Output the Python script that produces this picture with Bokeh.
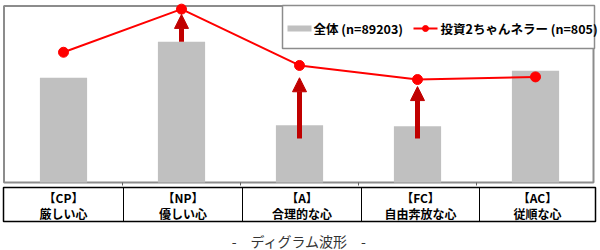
from bokeh.plotting import figure
from bokeh.models import Range1d, ColumnDataSource, Arrow, NormalHead
from bokeh.core.properties import value
from bokeh.embed import file_html
from bokeh.resources import INLINE

# ---- data ----
codes = ["【CP】", "【NP】", "【A】", "【FC】", "【AC】"]
names = ["厳しい心", "優しい心", "合理的な心", "自由奔放な心", "従順な心"]
overall = [11.9, 16.0, 6.5, 6.4, 12.7]          # 全体 (n=89203)
investors = [14.8, 19.7, 13.3, 11.7, 12.0]      # 投資2ちゃんネラー (n=805)
arrow_cats = [1, 2, 3]                          # index of category with arrow
arrow_from = [16.0, 5.0, 5.0]
arrow_to = [19.1, 11.9, 10.9]
legend_labels = ["全体 (n=89203)", "投資2ちゃんネラー (n=805)"]
title_text = "-\u3000ディグラム波形\u3000-"

FONT = "Noto Sans CJK JP"
GRAY = "#c0c0c0"
RED = "#ff0000"
DARK = "#c00000"
BORDER = "#8c8c8c"

# pixel -> data helpers (layout only)
PX_X0, PX_PER_X = 4.0, 118.0
PX_Y0, PX_PER_Y = 182.0, 8.8
def X(px):
    return (px - PX_X0) / PX_PER_X
def Y(px):
    return (PX_Y0 - px) / PX_PER_Y

p = figure(width=600, height=250, output_backend="svg", toolbar_location=None,
           x_range=Range1d(X(0), X(600)), y_range=Range1d(Y(250), Y(0)),
           min_border=0)
p.axis.visible = False
p.grid.visible = False
p.outline_line_color = None
p.background_fill_color = "white"
p.border_fill_color = "white"

xs = [i + 0.5 for i in range(len(codes))]

# plot frame
p.quad(left=[X(3.5)], right=[X(593)], top=[Y(5.5)], bottom=[Y(182)],
       fill_color=None, line_color=BORDER, line_width=2)
# category ticks on bottom edge
p.segment(x0=[1, 2, 3, 4], x1=[1, 2, 3, 4], y0=[Y(182)] * 4, y1=[Y(185)] * 4,
          line_color="#606060", line_width=1)

# bars
p.vbar(x=xs, top=overall, bottom=0, width=0.4, fill_color=GRAY, line_color=None)

# arrows
asrc = ColumnDataSource(dict(x=[xs[i] for i in arrow_cats], y0=arrow_from, y1=arrow_to))
p.add_layout(Arrow(source=asrc, x_start="x", y_start="y0", x_end="x", y_end="y1",
                   line_color=DARK, line_width=5,
                   end=NormalHead(size=14, fill_color=DARK, line_color=DARK, line_width=1)))

# investor line
p.line(xs, investors, line_color=RED, line_width=2)
p.scatter(xs, investors, size=10, fill_color=RED, line_color=RED)

# legend (manual)
p.quad(left=[X(282)], right=[X(594)], top=[Y(5)], bottom=[Y(48)],
       fill_color="white", line_color=BORDER, line_width=1.5)
p.quad(left=[X(287)], right=[X(311)], top=[Y(25)], bottom=[Y(31)],
       fill_color=GRAY, line_color=None)
p.segment(x0=[X(413)], x1=[X(437)], y0=[Y(28)], y1=[Y(28)], line_color=RED, line_width=2)
p.scatter([X(425)], [Y(28)], size=6, fill_color=RED, line_color=RED)
p.text(x=[X(313), X(440)], y=[Y(28), Y(28)], text=legend_labels,
       text_font=value(FONT), text_font_size="12.5px", text_font_style="bold",
       text_color="black", text_baseline="middle", text_align="left")

# table below
seps = [3, 123, 242, 361, 479, 595]
p.quad(left=[X(seps[0])], right=[X(seps[-1])], top=[Y(187)], bottom=[Y(221)],
       fill_color="white", line_color="black", line_width=1.5)
p.segment(x0=[X(s) for s in seps[1:-1]], x1=[X(s) for s in seps[1:-1]],
          y0=[Y(187)] * 4, y1=[Y(221)] * 4, line_color="black", line_width=1)
cx = [X((seps[i] + seps[i + 1]) / 2) for i in range(5)]
p.text(x=cx, y=[Y(197)] * 5, text=codes, text_font=value(FONT), text_font_size="12px",
       text_font_style="bold", text_color="black", text_align="center", text_baseline="middle")
p.text(x=cx, y=[Y(213)] * 5, text=names, text_font=value(FONT), text_font_size="12px",
       text_font_style="bold", text_color="black", text_align="center", text_baseline="middle")

# caption
p.text(x=[X(299)], y=[Y(240)], text=[title_text], text_font=value(FONT),
       text_font_size="14px", text_color="#333333", text_align="center",
       text_baseline="middle")

open("out.html", "w").write(file_html(p, INLINE))
